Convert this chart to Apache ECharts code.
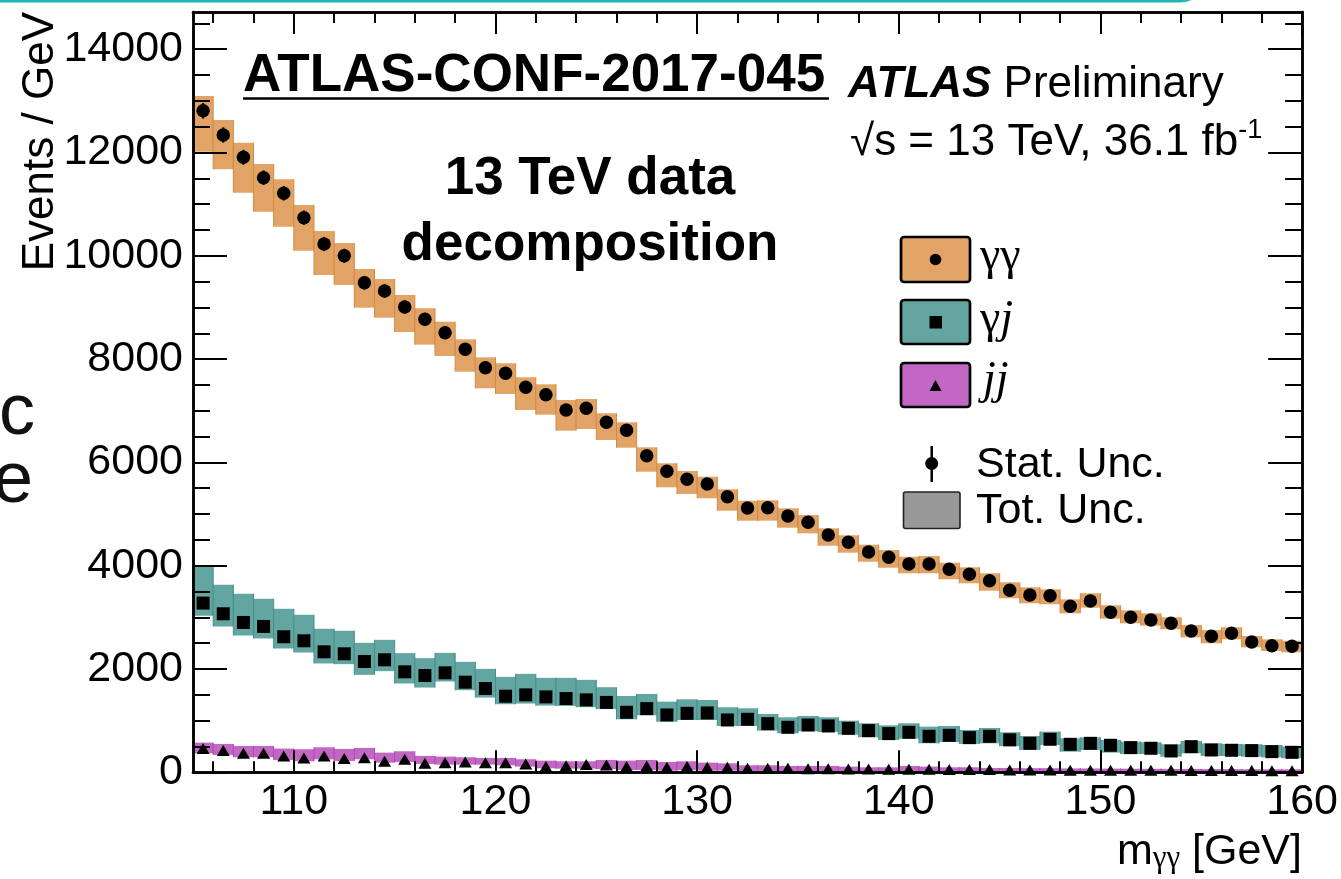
<!DOCTYPE html>
<html>
<head>
<meta charset="utf-8">
<title>13 TeV data decomposition</title>
<script src="https://cdn.jsdelivr.net/npm/echarts@6/dist/echarts.min.js"></script>
<style>
  html, body { margin: 0; padding: 0; background: #ffffff; }
  #chart { width: 1341px; height: 879px; }
</style>
</head>
<body>
<div id="chart"></div>
<script>
// m_gammagamma bins (centres, GeV), 1 GeV wide
const binCenters = [
  105.5, 106.5, 107.5, 108.5, 109.5, 110.5, 111.5, 112.5, 113.5, 114.5,
  115.5, 116.5, 117.5, 118.5, 119.5, 120.5, 121.5, 122.5, 123.5, 124.5,
  125.5, 126.5, 127.5, 128.5, 129.5, 130.5, 131.5, 132.5, 133.5, 134.5,
  135.5, 136.5, 137.5, 138.5, 139.5, 140.5, 141.5, 142.5, 143.5, 144.5,
  145.5, 146.5, 147.5, 148.5, 149.5, 150.5, 151.5, 152.5, 153.5, 154.5,
  155.5, 156.5, 157.5, 158.5, 159.5
];
const BIN_WIDTH = 1;

// gamma-gamma component: yield, statistical error, total-uncertainty band
const ggValue = [
  12808, 12339, 11907, 11512, 11210, 10738, 10228, 10002, 9479, 9318,
  9009, 8771, 8511, 8190, 7833, 7725, 7454, 7311, 7015, 7047,
  6776, 6622, 6130, 5828, 5673, 5580, 5336, 5117, 5123, 4962,
  4840, 4594, 4453, 4265, 4163, 4033, 4033, 3930, 3834, 3710,
  3525, 3433, 3419, 3214, 3317, 3098, 3001, 2949, 2885, 2736,
  2633, 2691, 2523, 2451, 2440
];
const ggStat = [
  150, 148, 145, 142, 140, 138, 135, 134, 131, 130,
  128, 126, 124, 120, 118, 117, 115, 113, 112, 112,
  110, 109, 106, 104, 102, 101, 100, 99, 99, 97,
  96, 95, 94, 92, 91, 90, 90, 89, 88, 86,
  85, 84, 84, 82, 82, 80, 79, 78, 78, 76,
  75, 76, 74, 73, 73
];
const ggTotHigh = [
  13094, 12629, 12190, 11777, 11481, 10984, 10480, 10248, 9744, 9550,
  9241, 8984, 8724, 8383, 8035, 7919, 7648, 7512, 7208, 7227,
  6951, 6776, 6292, 5983, 5833, 5723, 5479, 5258, 5266, 5111,
  4982, 4724, 4589, 4407, 4304, 4174, 4188, 4058, 3969, 3853,
  3679, 3582, 3543, 3349, 3466, 3233, 3136, 3078, 3001, 2852,
  2755, 2807, 2639, 2575, 2548
];
const ggTotLow = [
  12015, 11675, 11222, 10854, 10563, 10099, 9628, 9435, 8995, 8802,
  8525, 8280, 8060, 7756, 7435, 7324, 7015, 6923, 6614, 6647,
  6434, 6285, 5820, 5518, 5390, 5305, 5065, 4871, 4871, 4736,
  4627, 4387, 4252, 4077, 3961, 3853, 3853, 3737, 3659, 3516,
  3369, 3272, 3253, 3078, 3187, 2974, 2885, 2838, 2769, 2614,
  2498, 2575, 2420, 2349, 2323
];

// gamma-jet component
const gjValue = [
  3276, 3069, 2901, 2824, 2624, 2546, 2333, 2294, 2145, 2178,
  1945, 1874, 1926, 1745, 1622, 1473, 1499, 1460, 1428, 1402,
  1353, 1162, 1233, 1110, 1142, 1149, 1013, 1026, 942, 871,
  916, 897, 852, 807, 749, 774, 697, 716, 671, 697,
  629, 561, 639, 542, 561, 523, 478, 465, 413, 497,
  432, 426, 420, 400, 387
];
const gjTotHigh = [
  3974, 3632, 3457, 3360, 3166, 3050, 2779, 2740, 2507, 2565,
  2307, 2210, 2313, 2139, 2003, 1848, 1906, 1829, 1829, 1790,
  1647, 1478, 1517, 1368, 1413, 1400, 1259, 1239, 1129, 1065,
  1091, 1065, 1000, 949, 910, 949, 884, 897, 820, 858,
  775, 703, 787, 658, 678, 626, 594, 581, 542, 607,
  561, 549, 542, 529, 497
];
const gjTotLow = [
  3031, 2824, 2649, 2591, 2397, 2320, 2107, 2094, 1887, 1958,
  1719, 1641, 1758, 1590, 1447, 1318, 1331, 1292, 1286, 1260,
  1224, 1026, 1104, 981, 1013, 1013, 897, 897, 807, 755,
  794, 781, 729, 678, 626, 652, 561, 587, 549, 561,
  505, 432, 529, 400, 432, 381, 355, 355, 303, 368,
  316, 316, 303, 290, 271
];

// jet-jet component
const jjValue = [
  459, 420, 368, 368, 317, 278, 317, 265, 284, 213,
  252, 174, 187, 200, 187, 187, 162, 110, 129, 149,
  140, 110, 123, 97, 110, 97, 97, 77, 77, 77,
  71, 71, 65, 65, 58, 58, 58, 52, 52, 52,
  45, 45, 45, 42, 42, 40, 40, 38, 38, 35,
  35, 33, 33, 30, 30
];
const jjTotHigh = [
  575, 549, 510, 510, 459, 446, 485, 452, 472, 381,
  407, 317, 304, 291, 278, 278, 252, 226, 213, 213,
  239, 226, 239, 200, 213, 187, 174, 136, 136, 123,
  123, 123, 110, 97, 97, 123, 110, 97, 97, 84,
  84, 80, 80, 75, 75, 72, 70, 68, 66, 66,
  62, 62, 60, 58, 58
];
const jjTotLow = [
  368, 336, 291, 291, 239, 213, 252, 220, 252, 187,
  200, 162, 149, 149, 149, 136, 110, 78, 71, 71,
  60, 45, 45, 32, 40, 32, 32, 26, 26, 26,
  19, 19, 19, 19, 13, 13, 13, 13, 13, 13,
  12, 12, 12, 11, 11, 10, 10, 10, 10, 9,
  9, 9, 9, 8, 8
];

// axis ticks
const xMajorTicks = [110, 120, 130, 140, 150, 160];
const xMinorTicks = [106, 108, 112, 114, 116, 118, 122, 124, 126, 128, 132, 134,
                     136, 138, 142, 144, 146, 148, 152, 154, 156, 158];
const yMajorTicks = [0, 2000, 4000, 6000, 8000, 10000, 12000, 14000];
const yMinorTicks = [500, 1000, 1500, 2500, 3000, 3500, 4500, 5000, 5500, 6500, 7000,
                     7500, 8500, 9000, 9500, 10500, 11000, 11500, 12500, 13000,
                     13500, 14500];
const X_MIN = 105, X_MAX = 160, Y_MIN = 0, Y_MAX = 14720;

const SANS = '"Liberation Sans", Arial, Helvetica, sans-serif';
const SERIF = '"Liberation Serif", "Times New Roman", Times, serif';

const COLORS = {
  gg: { fill: '#E1A466', edge: '#D48940' },
  gj: { fill: '#62A5A1', edge: '#458F8B' },
  jj: { fill: '#C267C4', edge: '#AD4DB1' }
};

function xAxisDef(position, ticks, len, withLabels) {
  return {
    type: 'value', min: X_MIN, max: X_MAX, position: position, z: 5,
    axisLine: { show: true, onZero: false, lineStyle: { color: '#000', width: 2.5 } },
    axisTick: { show: true, inside: true, length: len, customValues: ticks,
                lineStyle: { color: '#000', width: 2 } },
    axisLabel: withLabels ? {
      show: true, customValues: ticks, margin: 8, color: '#000',
      fontFamily: SANS, fontSize: 43, formatter: v => String(v)
    } : { show: false },
    splitLine: { show: false }, minorTick: { show: false }, axisPointer: { show: false }
  };
}

function yAxisDef(position, ticks, len, withLabels) {
  return {
    type: 'value', min: Y_MIN, max: Y_MAX, position: position, z: 5,
    axisLine: { show: true, onZero: false, lineStyle: { color: '#000', width: 2.5 } },
    axisTick: { show: true, inside: true, length: len, customValues: ticks,
                lineStyle: { color: '#000', width: 2 } },
    axisLabel: withLabels ? {
      show: true, customValues: ticks, margin: 10, color: '#000',
      fontFamily: SANS, fontSize: 43, formatter: v => String(v)
    } : { show: false },
    splitLine: { show: false }, minorTick: { show: false }, axisPointer: { show: false }
  };
}

// total-uncertainty band: one box per bin
function bandSeries(name, low, high, color) {
  return {
    type: 'custom', name: name, xAxisIndex: 0, yAxisIndex: 0,
    data: binCenters.map((x, i) => [x, low[i], high[i]]),
    encode: { x: 0, y: [1, 2] },
    renderItem: function (params, api) {
      const x = api.value(0);
      const a = api.coord([x - BIN_WIDTH / 2, api.value(2)]);
      const b = api.coord([x + BIN_WIDTH / 2, api.value(1)]);
      return {
        type: 'group',
        children: [
          { type: 'rect', shape: { x: a[0], y: a[1], width: b[0] - a[0], height: b[1] - a[1] },
            style: { fill: color.fill } },
          { type: 'line', shape: { x1: a[0], y1: a[1], x2: a[0], y2: b[1] },
            style: { stroke: color.edge, lineWidth: 1 } },
          { type: 'line', shape: { x1: b[0], y1: a[1], x2: b[0], y2: b[1] },
            style: { stroke: color.edge, lineWidth: 1 } }
        ]
      };
    },
    z: 2, silent: true, animation: false
  };
}

// statistical error bars (vertical, no caps)
function statSeries(name, values, errors) {
  return {
    type: 'custom', name: name, xAxisIndex: 0, yAxisIndex: 0,
    data: binCenters.map((x, i) => [x, values[i] - errors[i], values[i] + errors[i]]),
    encode: { x: 0, y: [1, 2] },
    renderItem: function (params, api) {
      const lo = api.coord([api.value(0), api.value(1)]);
      const hi = api.coord([api.value(0), api.value(2)]);
      return { type: 'line', shape: { x1: lo[0], y1: lo[1], x2: hi[0], y2: hi[1] },
               style: { stroke: '#000', lineWidth: 2 } };
    },
    z: 3, silent: true, animation: false
  };
}

function markerSeries(name, values, symbol, size) {
  return {
    type: 'scatter', name: name, xAxisIndex: 0, yAxisIndex: 0,
    data: binCenters.map((x, i) => [x, values[i]]),
    symbol: symbol, symbolSize: size,
    itemStyle: { color: '#000', opacity: 1 },
    z: 4, silent: true, animation: false
  };
}

const chart = echarts.init(document.getElementById('chart'), null, { renderer: 'canvas' });

const option = {
  backgroundColor: '#ffffff',
  animation: false,
  grid: { left: 193, top: 12, width: 1110, height: 760.3, containLabel: false },
  xAxis: [
    xAxisDef('bottom', xMajorTicks, 22, true),
    xAxisDef('bottom', xMinorTicks, 11, false),
    xAxisDef('top', xMajorTicks, 22, false),
    xAxisDef('top', xMinorTicks, 11, false)
  ],
  yAxis: [
    yAxisDef('left', yMajorTicks, 34, true),
    yAxisDef('left', yMinorTicks, 17, false),
    yAxisDef('right', yMajorTicks, 34, false),
    yAxisDef('right', yMinorTicks, 17, false)
  ],
  series: [
    bandSeries('γγ band', ggTotLow, ggTotHigh, COLORS.gg),
    statSeries('γγ stat', ggValue, ggStat),
    markerSeries('γγ', ggValue, 'circle', 13.5),
    bandSeries('γj band', gjTotLow, gjTotHigh, COLORS.gj),
    markerSeries('γj', gjValue, 'rect', 13),
    bandSeries('jj band', jjTotLow, jjTotHigh, COLORS.jj),
    markerSeries('jj', jjValue, 'triangle', [13, 11])
  ],
  graphic: [
    // teal slide border strip along the top edge
    { type: 'line', z: 20, shape: { x1: 0, y1: 1, x2: 1180, y2: 1 },
      style: { stroke: '#22B7B0', lineWidth: 3 } },
    { type: 'bezierCurve', z: 20,
      shape: { x1: 1180, y1: 1, cpx1: 1188, cpy1: 1, x2: 1196, y2: -4 },
      style: { stroke: '#22B7B0', lineWidth: 3, fill: null } },

    // clipped slide letters on the left edge
    { type: 'text', z: 20, x: 35, y: 414,
      style: { text: 'c', fill: '#111', font: '72px ' + SANS,
               align: 'right', verticalAlign: 'middle', textAlign: 'right', textVerticalAlign: 'middle' } },
    { type: 'text', z: 20, x: 33, y: 482,
      style: { text: 'e', fill: '#111', font: '72px ' + SANS,
               align: 'right', verticalAlign: 'middle', textAlign: 'right', textVerticalAlign: 'middle' } },

    // axis titles
    { type: 'text', z: 20, x: 41, y: 12, rotation: Math.PI / 2,
      style: { text: 'Events / GeV', fill: '#000', font: '44px ' + SANS,
               align: 'right', verticalAlign: 'middle', textAlign: 'right', textVerticalAlign: 'middle' } },
    { type: 'text', z: 20, x: 1302, y: 852,
      style: {
        text: '{m|m}{s|γγ}{m| [GeV]}', fill: '#000',
        align: 'right', verticalAlign: 'middle', textAlign: 'right', textVerticalAlign: 'middle',
        rich: {
          m: { fontFamily: SANS, fontSize: 43, lineHeight: 44, verticalAlign: 'middle', fill: '#000' },
          s: { fontFamily: SERIF, fontSize: 31, verticalAlign: 'bottom', fill: '#000' }
        }
      } },

    // reference / label texts
    { type: 'text', z: 20, x: 243, y: 76,
      style: { text: 'ATLAS-CONF-2017-045', fill: '#000', font: 'bold 53px ' + SANS,
               align: 'left', verticalAlign: 'middle', textAlign: 'left', textVerticalAlign: 'middle' } },
    { type: 'line', z: 20, shape: { x1: 243, y1: 98.5, x2: 829, y2: 98.5 },
      style: { stroke: '#000', lineWidth: 2.5 } },
    { type: 'text', z: 20, x: 590, y: 179,
      style: { text: '13 TeV data', fill: '#000', font: 'bold 53px ' + SANS,
               align: 'center', verticalAlign: 'middle', textAlign: 'center', textVerticalAlign: 'middle' } },
    { type: 'text', z: 20, x: 590, y: 245,
      style: { text: 'decomposition', fill: '#000', font: 'bold 53px ' + SANS,
               align: 'center', verticalAlign: 'middle', textAlign: 'center', textVerticalAlign: 'middle' } },
    { type: 'text', z: 20, x: 848, y: 85,
      style: {
        text: '{b|ATLAS}{r| Preliminary}', fill: '#000',
        align: 'left', verticalAlign: 'middle', textAlign: 'left', textVerticalAlign: 'middle',
        rich: {
          b: { fontFamily: SANS, fontSize: 44, fontWeight: 'bold', fontStyle: 'italic', fill: '#000' },
          r: { fontFamily: SANS, fontSize: 44, fill: '#000' }
        }
      } },
    { type: 'text', z: 20, x: 850, y: 143,
      style: {
        text: '{m|√s = 13 TeV, 36.1 fb}{u|-1}', fill: '#000',
        align: 'left', verticalAlign: 'middle', textAlign: 'left', textVerticalAlign: 'middle',
        rich: {
          m: { fontFamily: SANS, fontSize: 44, lineHeight: 52, verticalAlign: 'middle', fill: '#000' },
          u: { fontFamily: SANS, fontSize: 27, verticalAlign: 'top', fill: '#000' }
        }
      } },

    // legend
    { type: 'rect', z: 20, shape: { x: 901, y: 237, width: 69, height: 45, r: 3 },
      style: { fill: COLORS.gg.fill, stroke: '#000', lineWidth: 2.7 } },
    { type: 'circle', z: 21, shape: { cx: 935.5, cy: 259.5, r: 5.8 }, style: { fill: '#000' } },
    { type: 'text', z: 20, x: 980, y: 257,
      style: { text: 'γγ', fill: '#000', font: '46px ' + SERIF,
               align: 'left', verticalAlign: 'middle', textAlign: 'left', textVerticalAlign: 'middle' } },

    { type: 'rect', z: 20, shape: { x: 901, y: 300, width: 69, height: 44, r: 3 },
      style: { fill: COLORS.gj.fill, stroke: '#000', lineWidth: 2.7 } },
    { type: 'rect', z: 21, shape: { x: 929.5, y: 316, width: 12.5, height: 12.5 }, style: { fill: '#000' } },
    { type: 'text', z: 20, x: 980, y: 320,
      style: {
        text: '{g|γ}{i|j}', fill: '#000',
        align: 'left', verticalAlign: 'middle', textAlign: 'left', textVerticalAlign: 'middle',
        rich: {
          g: { fontFamily: SERIF, fontSize: 46, fill: '#000' },
          i: { fontFamily: SERIF, fontSize: 46, fontStyle: 'italic', fill: '#000' }
        }
      } },

    { type: 'rect', z: 20, shape: { x: 901, y: 363, width: 69, height: 44, r: 3 },
      style: { fill: COLORS.jj.fill, stroke: '#000', lineWidth: 2.7 } },
    { type: 'polygon', z: 21, shape: { points: [[935.5, 380], [941.5, 391], [929.5, 391]] },
      style: { fill: '#000' } },
    { type: 'text', z: 20, x: 983, y: 381,
      style: { text: 'jj', fill: '#000', font: 'italic 46px ' + SERIF,
               align: 'left', verticalAlign: 'middle', textAlign: 'left', textVerticalAlign: 'middle' } },

    { type: 'line', z: 20, shape: { x1: 931.7, y1: 446, x2: 931.7, y2: 482 },
      style: { stroke: '#000', lineWidth: 2.5 } },
    { type: 'circle', z: 21, shape: { cx: 931.7, cy: 463.5, r: 6.5 }, style: { fill: '#000' } },
    { type: 'text', z: 20, x: 976, y: 465.5,
      style: { text: 'Stat. Unc.', fill: '#000', font: '43px ' + SANS,
               align: 'left', verticalAlign: 'middle', textAlign: 'left', textVerticalAlign: 'middle' } },

    { type: 'rect', z: 20, shape: { x: 903.5, y: 492, width: 56.5, height: 36.5, r: 2 },
      style: { fill: '#999999', stroke: '#222', lineWidth: 1.6 } },
    { type: 'text', z: 20, x: 976, y: 511,
      style: { text: 'Tot. Unc.', fill: '#000', font: '43px ' + SANS,
               align: 'left', verticalAlign: 'middle', textAlign: 'left', textVerticalAlign: 'middle' } }
  ]
};

chart.setOption(option);
</script>
</body>
</html>
